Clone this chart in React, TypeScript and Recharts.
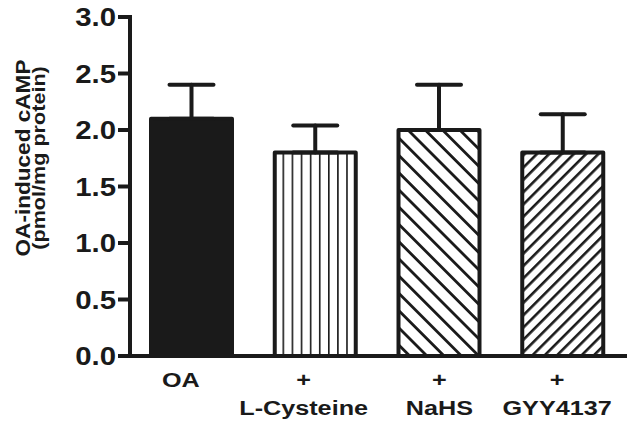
import React from "react";
import { BarChart, Bar, Cell, XAxis, YAxis, ErrorBar } from "recharts";

const groups = ["OA", "L-Cysteine", "NaHS", "GYY4137"];
const labelTop = ["OA", "+", "+", "+"];
const labelBottom = ["", "L-Cysteine", "NaHS", "GYY4137"];
const means = [2.1, 1.8, 2.0, 1.8];
const sem = [0.3, 0.24, 0.4, 0.34];
const yTicks = [0, 0.5, 1.0, 1.5, 2.0, 2.5, 3.0];

const INK = "#1a1a1a";
const FONT = "'Liberation Sans', Arial, Helvetica, sans-serif";
const FILLS = [INK, "url(#vlines)", "url(#backslash)", "url(#slash)"];
const LABEL_SHIFT = [-11, -12, 0, -6];

const data = groups.map((g, i) => ({
  name: g,
  value: means[i],
  err: [0, sem[i]],
}));

const YTick = (props: any) => {
  const { x, y, payload } = props;
  return (
    <g transform={`translate(${x},${y}) scale(1.13,1)`}>
      <text x={0} y={0} dy="0.36em" textAnchor="end" fontFamily={FONT} fontWeight="bold" fontSize={26} fill={INK}>
        {Number(payload.value).toFixed(1)}
      </text>
    </g>
  );
};

const XTick = (props: any) => {
  const { x, y, index } = props;
  const cx = x + LABEL_SHIFT[index];
  return (
    <g>
      <g transform={`translate(${cx},${y + 31}) scale(1.2,1)`}>
        <text x={0} y={0} textAnchor="middle" fontFamily={FONT} fontWeight="bold" fontSize={21} fill={INK}>
          {labelTop[index]}
        </text>
      </g>
      {labelBottom[index] && (
        <g transform={`translate(${cx},${y + 59}) scale(1.2,1)`}>
          <text x={0} y={0} textAnchor="middle" fontFamily={FONT} fontWeight="bold" fontSize={21} fill={INK}>
            {labelBottom[index]}
          </text>
        </g>
      )}
    </g>
  );
};

const YLabel = () => (
  <g>
    <g transform="translate(30,158) rotate(-90) scale(1.075,1)">
      <text x={0} y={0} textAnchor="middle" fontFamily={FONT} fontWeight="bold" fontSize={21} fill={INK}>
        OA-induced cAMP
      </text>
    </g>
    <g transform="translate(45,158) rotate(-90) scale(1.2,1)">
      <text x={0} y={0} textAnchor="middle" fontFamily={FONT} fontWeight="bold" fontSize={18} fill={INK}>
        (pmol/mg protein)
      </text>
    </g>
  </g>
);

export default function App() {
  return (
    <div style={{ position: "absolute", left: 0, top: 0, width: 630, height: 425, background: "#fff" }}>
      <BarChart width={630} height={425} data={data} margin={{ top: 17, right: 5, bottom: 9, left: 0 }}>
        <defs>
          <pattern id="vlines" patternUnits="userSpaceOnUse" x={282.5} y={0} width={9.1} height={10}>
            <rect x={0} y={0} width={1.6} height={10} fill={INK} />
          </pattern>
          <pattern id="backslash" patternUnits="userSpaceOnUse" width={12.2} height={12.2} patternTransform="rotate(-45)">
            <rect x={0} y={0} width={2.8} height={12.2} fill={INK} />
          </pattern>
          <pattern id="slash" patternUnits="userSpaceOnUse" width={8.7} height={8.7} patternTransform="rotate(45)">
            <rect x={0} y={0} width={2.6} height={8.7} fill={INK} />
          </pattern>
        </defs>
        <XAxis
          dataKey="name"
          height={60}
          tickLine={false}
          tickSize={0}
          tickMargin={0}
          axisLine={{ stroke: INK, strokeWidth: 4, strokeLinecap: "square" }}
          tick={<XTick />}
          interval={0}
        />
        <YAxis
          width={130}
          domain={[0, 3]}
          ticks={yTicks}
          tickSize={12}
          tickMargin={2}
          axisLine={{ stroke: INK, strokeWidth: 4, strokeLinecap: "square" }}
          tickLine={{ stroke: INK, strokeWidth: 4 }}
          tick={<YTick />}
          label={{ content: () => <YLabel /> }}
        />
        <Bar dataKey="value" barSize={81} stroke={INK} strokeWidth={4} strokeLinejoin="round" isAnimationActive={false}>
          {data.map((d, i) => (
            <Cell key={d.name} fill={FILLS[i]} />
          ))}
          <ErrorBar dataKey="err" width={22} stroke={INK} strokeWidth={4} strokeLinecap="round" direction="y" isAnimationActive={false} />
        </Bar>
      </BarChart>
    </div>
  );
}
